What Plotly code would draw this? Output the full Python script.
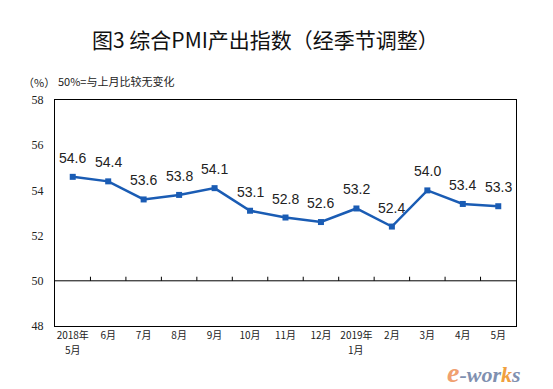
import plotly.graph_objects as go

months = ["2018年5月", "6月", "7月", "8月", "9月", "10月", "11月", "12月",
          "2019年1月", "2月", "3月", "4月", "5月"]
tick_line1 = ["2018年", "6月", "7月", "8月", "9月", "10月", "11月", "12月",
              "2019年", "2月", "3月", "4月", "5月"]
tick_line2 = ["5月", "", "", "", "", "", "", "", "1月", "", "", "", ""]
pmi = [54.6, 54.4, 53.6, 53.8, 54.1, 53.1, 52.8, 52.6, 53.2, 52.4, 54.0, 53.4, 53.3]
y_ticks = [48, 50, 52, 54, 56, 58]

line_color = "#1a5cb4"
cjk = "Noto Sans CJK SC"

W, H = 553, 389
l, r, t, b = 47, 45, 92, 71
pw, ph = W - l - r, H - t - b


def px(xp, yp):
    return (xp - l) / pw, (H - b - yp) / ph


fig = go.Figure()
fig.add_trace(go.Scatter(
    x=months, y=pmi, mode="lines+markers",
    line=dict(color=line_color, width=2.5),
    marker=dict(symbol="square", size=6, color=line_color),
    hoverinfo="skip", showlegend=False,
))

for m, v in zip(months, pmi):
    fig.add_annotation(
        x=m, y=v, xref="x", yref="y", text=f"{v:.1f}", showarrow=False,
        yshift=19, font=dict(family="Liberation Sans", size=14, color="#222222"),
    )

for m, s in zip(months, tick_line2):
    if s:
        fig.add_annotation(
            x=m, y=48, xref="x", yref="y", text=s, showarrow=False,
            yanchor="middle", yshift=-23,
            font=dict(family=cjk, size=10, color="#222222"),
        )

shapes = []
shapes.append(dict(type="line", xref="x domain", yref="y", x0=0, x1=1, y0=50, y1=50,
                   line=dict(color="#000000", width=1)))
for i in range(1, len(months)):
    shapes.append(dict(type="line", xref="x", yref="y", x0=i - 0.5, x1=i - 0.5,
                       y0=50, y1=50.18, line=dict(color="#000000", width=1)))

fig.update_layout(
    width=W, height=H,
    margin=dict(l=l, r=r, t=t, b=b),
    paper_bgcolor="white", plot_bgcolor="white",
    shapes=shapes,
)

extra = []
tx, ty = px(257, 31)
extra.append(dict(text="图3 综合PMI产出指数（经季节调整）", x=tx, y=ty,
                  showarrow=False, xanchor="center", yanchor="middle",
                  font=dict(family=cjk, size=21, color="#111111")))
tx, ty = px(13, 74)
extra.append(dict(text="（%）", x=tx, y=ty, showarrow=False,
                  xanchor="left", yanchor="middle", font=dict(family=cjk, size=11, color="#222222")))
tx, ty = px(48, 73)
extra.append(dict(text="50%=与上月比较无变化", x=tx, y=ty, showarrow=False,
                  xanchor="left", yanchor="middle", font=dict(family=cjk, size=11, color="#222222")))
tx, ty = px(476, 364)
extra.append(dict(
    text="<i><b><span style='color:#f0a070;font-size:28px'>e</span><span style='color:#8090b0'>-wor</span>"
         "<span style='color:#f0a040'>k</span><span style='color:#8090b0'>s</span></b></i>",
    x=tx, y=ty, showarrow=False, xanchor="center", yanchor="middle",
    font=dict(family="Liberation Serif", size=22)))
for a in extra:
    fig.add_annotation(xref="paper", yref="paper", **a)

fig.update_xaxes(
    type="category", categoryarray=months, range=[-0.5, len(months) - 0.5],
    tickvals=months, ticktext=tick_line1,
    showline=True, linecolor="#000000", linewidth=1, mirror=True,
    showgrid=False, ticks="", zeroline=False, ticklabelstandoff=0,
    tickfont=dict(family=cjk, size=10, color="#222222"),
)
fig.update_yaxes(
    range=[48, 58], tickvals=y_ticks, ticktext=[str(v) for v in y_ticks],
    showline=True, linecolor="#000000", linewidth=1, mirror=True,
    showgrid=False, ticks="", zeroline=False, ticklabelstandoff=8,
    tickfont=dict(family="Liberation Serif", size=12, color="#222222"),
)

fig.write_html("out.html")
